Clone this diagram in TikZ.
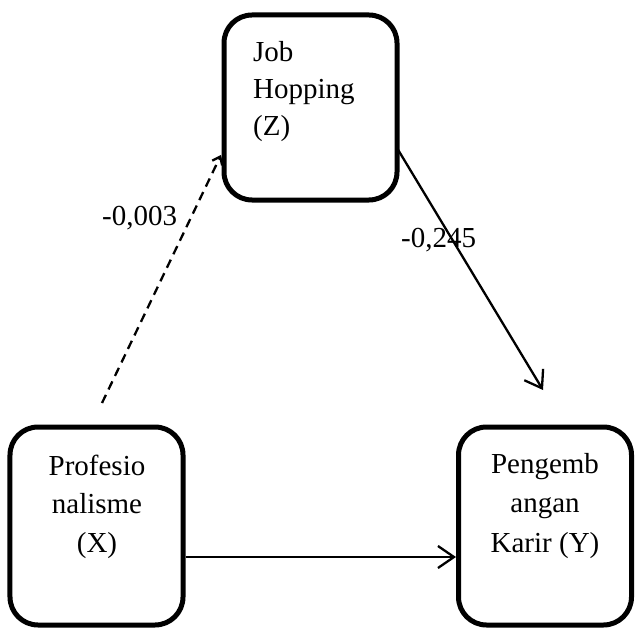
\documentclass[tikz,border=0pt]{standalone}
\usepackage{fontspec}
\setmainfont{Liberation Serif}
\usetikzlibrary{arrows.meta}
\begin{document}
\begin{tikzpicture}[x=1bp,y=-1bp,
  varbox/.style={draw=black, line width=5bp, rounded corners=28bp, minimum width=173bp, inner sep=0pt},
  txt/.style={anchor=base, inner sep=0pt, font=\fontsize{29bp}{38bp}\selectfont},
  lbl/.style={anchor=base west, inner sep=0pt, font=\fontsize{29bp}{38bp}\selectfont},
  conn/.style={line width=2.3bp},
  bigtip/.style={-{Straight Barb[length=16bp,width=22bp,line width=2.3bp]}},
  smalltip/.style={-{Straight Barb[length=7bp,width=11bp,line width=2.3bp]}}
]
\useasboundingbox (0,0) rectangle (635,628);
% boxes
\node[varbox, minimum height=185bp] (zbox) at (310.5,107.5) {};
\node[varbox, minimum height=198bp] (xbox) at (96.5,526) {};
\node[varbox, minimum height=198bp] (ybox) at (545,526) {};
% texts
\node[txt, anchor=base west] (z1) at (253,62) {Job};
\node[txt, anchor=base west] (z2) at (253,99) {Hopping};
\node[txt, anchor=base west] (z3) at (253,136) {(Z)};
\node[txt] (x1) at (97,475) {Profesio};
\node[txt] (x2) at (97,513) {nalisme};
\node[txt] (x3) at (97,552) {(X)};
\node[txt] (y1) at (545,473) {Pengemb};
\node[txt] (y2) at (545,512) {angan};
\node[txt] (y3) at (545,552) {Karir (Y)};
% labels
\node[lbl] (l1) at (102,225) {-0,003};
\node[lbl] (l2) at (401,247) {-0,245};
% connectors
\coordinate (ds) at (102,403);
\coordinate (de) at (221,155);
\coordinate (ss) at (397,148);
\coordinate (se) at (543,390);
\draw[conn, smalltip, dash pattern=on 9bp off 6bp] (ds) -- (de);
\draw[conn, bigtip] (ss) -- (se);
\draw[conn, bigtip] (xbox.east |- 0,557) -- (ybox.west |- 0,557);
\end{tikzpicture}
\end{document}
